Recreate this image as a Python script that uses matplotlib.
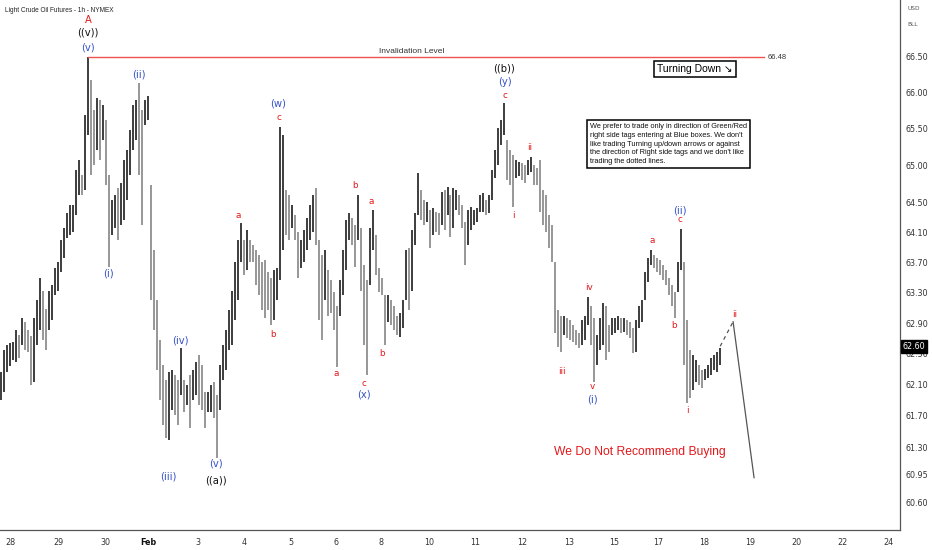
import numpy as np
import matplotlib
matplotlib.use('Agg')
import matplotlib.pyplot as plt
from matplotlib.ticker import FixedLocator, FixedFormatter, NullLocator

# hourly bars (high / low)
highs = [62.27, 62.55, 62.62, 62.64, 62.66, 62.81, 62.75, 62.97, 62.92, 62.81,
         62.74, 62.97, 63.20, 63.49, 63.33, 63.09, 63.33, 63.40, 63.63, 63.71,
         64.00, 64.16, 64.36, 64.47, 64.47, 64.94, 65.07, 64.87, 65.69, 66.48,
         66.17, 65.75, 65.92, 65.89, 65.82, 65.62, 64.87, 64.53, 64.60, 64.70,
         64.77, 65.07, 65.21, 65.48, 65.82, 65.89, 66.13, 65.75, 65.89, 65.95,
         64.74, 63.87, 63.20, 62.68, 62.36, 62.16, 62.27, 62.29, 62.23, 62.16,
         62.58, 62.16, 62.10, 62.23, 62.29, 62.40, 62.49, 62.36, 62.00, 62.00,
         62.10, 62.13, 61.97, 62.36, 62.62, 62.81, 63.07, 63.33, 63.71, 64.00,
         64.23, 64.00, 64.13, 64.00, 63.94, 63.87, 63.80, 63.71, 63.73, 63.57,
         63.49, 63.60, 63.63, 65.52, 65.42, 64.67, 64.60, 64.47, 64.33, 64.11,
         64.00, 64.13, 64.29, 64.47, 64.60, 64.70, 64.00, 63.80, 63.87, 63.60,
         63.47, 63.31, 63.13, 63.47, 63.87, 64.27, 64.36, 64.29, 64.20, 64.60,
         64.16, 63.67, 63.47, 64.16, 64.40, 64.07, 63.63, 63.49, 63.27, 63.27,
         63.20, 63.13, 63.00, 63.04, 63.20, 63.87, 63.90, 64.13, 64.36, 64.90,
         64.67, 64.53, 64.51, 64.40, 64.43, 64.37, 64.36, 64.64, 64.67, 64.71,
         64.60, 64.70, 64.67, 64.60, 64.47, 64.24, 64.40, 64.44, 64.40, 64.43,
         64.60, 64.63, 64.53, 64.60, 64.94, 65.21, 65.51, 65.62, 65.85, 65.35,
         65.21, 65.14, 65.07, 65.05, 65.03, 65.01, 65.07, 65.11, 65.01, 64.97,
         65.07, 64.67, 64.60, 64.33, 64.20, 63.71, 63.07, 63.00, 63.00, 62.97,
         62.94, 62.88, 62.81, 62.77, 62.94, 63.00, 63.24, 63.13, 62.97, 62.75,
         62.97, 63.17, 63.13, 62.88, 62.97, 62.97, 63.00, 62.97, 62.97, 62.94,
         62.92, 62.84, 62.94, 63.13, 63.20, 63.57, 63.76, 63.87, 63.80, 63.76,
         63.73, 63.67, 63.60, 63.49, 63.40, 63.31, 63.71, 64.15, 63.71, 62.94,
         62.55, 62.49, 62.42, 62.36, 62.29, 62.31, 62.36, 62.45, 62.49, 62.53, 62.58]
lows = [61.90, 62.00, 62.27, 62.34, 62.42, 62.40, 62.45, 62.62, 62.55, 62.53,
        62.10, 62.13, 62.62, 62.81, 62.68, 62.55, 62.81, 62.94, 63.27, 63.33,
        63.57, 63.76, 64.03, 64.07, 64.11, 64.33, 64.60, 64.60, 64.67, 65.42,
        64.87, 65.01, 65.21, 65.07, 65.35, 64.74, 63.64, 64.07, 64.16, 64.00,
        64.20, 64.27, 64.53, 64.87, 65.21, 65.35, 64.87, 64.20, 65.55, 65.62,
        63.20, 62.81, 62.29, 61.90, 61.58, 61.41, 61.39, 61.77, 61.71, 61.58,
        61.97, 61.75, 61.84, 61.54, 61.90, 61.97, 61.84, 61.77, 61.54, 61.75,
        61.75, 61.67, 61.16, 61.77, 62.16, 62.29, 62.55, 62.62, 62.94, 63.20,
        63.71, 63.53, 63.60, 63.71, 63.71, 63.40, 63.27, 63.07, 62.97, 63.07,
        62.88, 62.94, 63.20, 63.47, 63.87, 64.07, 64.00, 64.16, 64.00, 63.49,
        63.63, 63.71, 63.87, 64.00, 64.11, 63.94, 62.94, 62.68, 63.20, 63.00,
        63.04, 62.81, 62.33, 63.00, 63.27, 63.60, 64.00, 63.94, 63.64, 64.00,
        63.33, 62.62, 62.23, 63.40, 63.87, 63.53, 63.31, 63.27, 62.62, 62.92,
        62.88, 62.81, 62.75, 62.72, 62.84, 63.20, 63.07, 63.33, 63.94, 64.33,
        64.27, 64.20, 64.24, 63.90, 64.07, 64.11, 64.07, 64.20, 64.13, 64.33,
        64.04, 64.16, 64.40, 64.33, 64.16, 63.67, 63.94, 64.13, 64.20, 64.24,
        64.37, 64.37, 64.33, 64.36, 64.53, 64.83, 65.01, 65.28, 65.42, 64.80,
        64.74, 64.44, 64.83, 64.86, 64.80, 64.77, 64.87, 64.91, 64.74, 64.74,
        64.37, 64.20, 64.11, 63.90, 63.71, 62.77, 62.59, 62.53, 62.75, 62.71,
        62.68, 62.66, 62.62, 62.58, 62.62, 62.68, 62.88, 62.62, 62.13, 62.36,
        62.55, 62.62, 62.42, 62.53, 62.75, 62.77, 62.81, 62.77, 62.79, 62.75,
        62.71, 62.51, 62.53, 62.84, 62.92, 63.20, 63.44, 63.67, 63.63, 63.57,
        63.53, 63.47, 63.40, 63.27, 63.13, 62.97, 63.31, 63.60, 62.36, 61.87,
        61.93, 62.03, 62.13, 62.10, 62.06, 62.16, 62.19, 62.23, 62.29, 62.27, 62.36]

last_price = 62.60
invalidation = 66.48

# projected path (bar index, price)
proj_dash_x = [240, 244.3]
proj_dash_y = [62.60, 62.92]
proj_solid_x = [244.3, 251.3]
proj_solid_y = [62.92, 60.91]

price_ticks = [66.50, 66.00, 65.50, 65.00, 64.50, 64.10, 63.70, 63.30, 62.90,
               62.50, 62.10, 61.70, 61.30, 60.95, 60.60]
date_labels = ['28', '29', '30', 'Feb', '3', '4', '5', '6', '8', '10', '11', '12',
               '13', '15', '17', '18', '19', '20', '22', '24']
date_pos = [3.2, 19.3, 34.7, 49.3, 65.7, 81, 96.7, 111.7, 126.7, 143, 158.3, 174,
            189.7, 204.7, 219.3, 234.7, 250, 265.3, 280.7, 296.3]

# wave labels: text, bar index, price, colour key
wave_labels = [
    ('A', 29, 67.00, 'r'), ('((v))', 29, 66.82, 'k'), ('(v)', 29, 66.62, 'b'),
    ('(i)', 36, 63.56, 'b'), ('(ii)', 46, 66.25, 'b'), ('(iii)', 55.7, 60.92, 'b'),
    ('(iv)', 60, 62.68, 'b'), ('(v)', 71.7, 61.09, 'b'), ('((a))', 71.7, 60.88, 'k'),
    ('a', 79.3, 64.33, 'r'), ('b', 90.7, 62.75, 'r'), ('(w)', 92.3, 65.84, 'b'),
    ('c', 92.7, 65.66, 'r'), ('a', 112, 62.24, 'r'), ('b', 118, 64.73, 'r'),
    ('a', 123.7, 64.52, 'r'), ('c', 121, 62.12, 'r'), ('(x)', 121, 61.97, 'b'),
    ('b', 127, 62.51, 'r'), ('((b))', 168, 66.33, 'k'), ('(y)', 168, 66.14, 'b'),
    ('c', 168, 65.96, 'r'), ('i', 171, 64.33, 'r'), ('ii', 176.3, 65.24, 'r'),
    ('iii', 187.3, 62.27, 'r'), ('iv', 196.3, 63.37, 'r'), ('v', 197.3, 62.08, 'r'),
    ('(i)', 197.3, 61.91, 'b'), ('a', 217.3, 63.99, 'r'), ('b', 224.7, 62.87, 'r'),
    ('(ii)', 226.7, 64.40, 'b'), ('c', 226.7, 64.27, 'r'), ('i', 229, 61.77, 'r'),
    ('ii', 244.7, 63.02, 'r'),
]
label_colors = {'r': '#e3191c', 'b': '#3552c8', 'k': '#111111'}
fam = ['Liberation Sans', 'DejaVu Sans']

W, H = 932, 550
fig = plt.figure(figsize=(W / 100, H / 100), dpi=100)
fig.patch.set_facecolor('white')
ax = fig.add_axes([0, 1 - 530 / H, 900 / W, 530 / H])
ax.set_facecolor('white')

x = np.arange(len(highs))
hi = np.array(highs)
lo = np.array(lows)
mid = (hi + lo) / 2
up = np.r_[True, mid[1:] >= mid[:-1]]
cols = np.where(up, '#262626', '#8a8a8a')
ax.vlines(x, lo, hi, colors=cols, lw=1.25)

ax.plot(proj_dash_x, proj_dash_y, color='#555555', lw=0.9, ls=(0, (3, 3)))
ax.plot(proj_solid_x, proj_solid_y, color='#555555', lw=0.9)

# invalidation level
ax.plot([29, 254.7], [invalidation, invalidation], color='#ef5350', lw=1.0)
ax.text(137, invalidation + 0.03, 'Invalidation Level', fontsize=6.0,
        color='#333333', ha='center', va='bottom', family=fam)
ax.text(255.7, invalidation, '%.2f' % invalidation, fontsize=5.4, color='#333333',
        ha='left', va='center', family=fam)

for txt, bx, py, c in wave_labels:
    big = txt.startswith('(') or txt == 'A'
    ax.text(bx, py, txt, color=label_colors[c], fontsize=7.2 if big else 6.4,
            ha='center', va='center', family='DejaVu Sans')

ax.set_yscale('log')
ax.set_xlim(-1 / 3, 300)
ax.set_ylim(60.25, 67.28)
ax.yaxis.set_major_locator(FixedLocator(price_ticks))
ax.yaxis.set_major_formatter(FixedFormatter(['%.2f' % v for v in price_ticks]))
ax.yaxis.set_minor_locator(NullLocator())
ax.yaxis.tick_right()
ax.tick_params(axis='y', length=0, pad=4, labelsize=5.8, labelcolor='#333333')
ax.set_xticks(date_pos)
ax.set_xticklabels(date_labels, fontsize=5.8, color='#333333')
for t in ax.get_xticklabels():
    if t.get_text() == 'Feb':
        t.set_fontweight('bold')
        t.set_color('#111111')
ax.tick_params(axis='x', length=0, pad=6)
for s in ['left', 'top']:
    ax.spines[s].set_visible(False)
for s in ['right', 'bottom']:
    ax.spines[s].set_color('#555555')
    ax.spines[s].set_linewidth(0.9)

# current price tag
ax.text(1.003, last_price, '%.2f' % last_price, transform=ax.get_yaxis_transform(),
        fontsize=5.8, color='white', ha='left', va='center', zorder=10, clip_on=False,
        bbox=dict(boxstyle='square,pad=0.25', fc='black', ec='black'))

fig.text(5 / W, 1 - 10 / H, 'Light Crude Oil Futures - 1h - NYMEX', fontsize=4.7,
         color='#222222', ha='left', va='center', family=fam)
fig.text(907 / W, 1 - 8 / H, 'USD', fontsize=4.2, color='#555555', va='center')
fig.text(907 / W, 1 - 25 / H, 'BLL', fontsize=4.2, color='#555555', va='center')

fig.text(695 / W, 1 - 69 / H, 'Turning Down \u2198', fontsize=7.5, color='black',
         ha='center', va='center', family=fam,
         bbox=dict(boxstyle='square,pad=0.3', fc='white', ec='black', lw=1.1))

note = ('We prefer to trade only in direction of Green/Red\n'
        'right side tags entering at Blue boxes. We don\'t\n'
        'like trading Turning up/down arrows or against\n'
        'the direction of Right side tags and we don\'t like\n'
        'trading the dotted lines.')
fig.text(590 / W, 1 - 144 / H, note, fontsize=5.3, color='#111111', ha='left',
         va='center', linespacing=1.35, family=fam,
         bbox=dict(boxstyle='square,pad=0.45', fc='white', ec='black', lw=1.1))

fig.text(640 / W, 1 - 452 / H, 'We Do Not Recommend Buying', fontsize=8.7,
         color='#e3191c', ha='center', va='center', family=fam)

fig.savefig('out.png', dpi=100, facecolor='white')
